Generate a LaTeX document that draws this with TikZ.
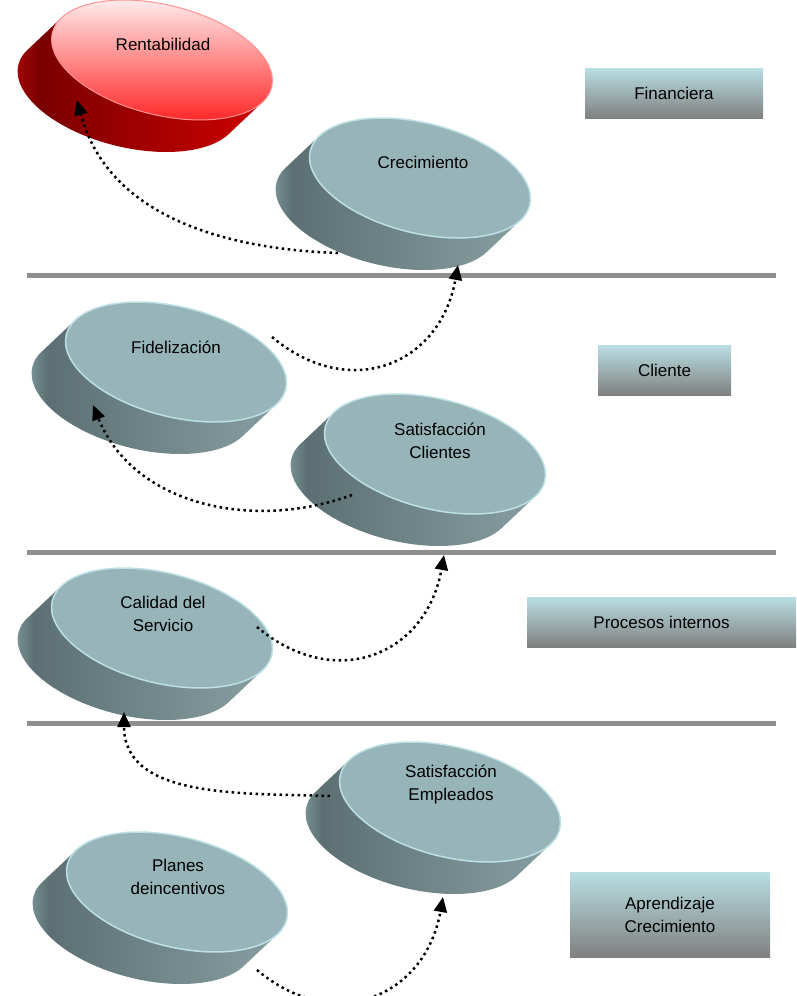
\documentclass[tikz,border=0pt]{standalone}
\usepackage{fontspec}
\setmainfont{Liberation Sans}
\usetikzlibrary{arrows.meta}
\definecolor{gsl}{RGB}{140,172,175}
\definecolor{gsd}{RGB}{92,112,115}
\definecolor{gsr}{RGB}{135,158,160}
\definecolor{rsl}{RGB}{190,10,10}
\definecolor{rsd}{RGB}{122,0,0}
\definecolor{rsr}{RGB}{205,0,0}
\definecolor{gtopc}{RGB}{151,181,184}
\definecolor{grim}{RGB}{188,224,228}
\definecolor{rtop1}{RGB}{255,248,248}
\definecolor{rtop2}{RGB}{255,45,45}
\definecolor{boxc}{RGB}{185,223,227}
\definecolor{boxg}{RGB}{128,128,128}
\definecolor{sepc}{RGB}{142,142,142}
\pgfdeclarehorizontalshading{greyside}{100bp}{color(0bp)=(gsl); color(25bp)=(gsl); color(31bp)=(gsd); color(75bp)=(gsr); color(100bp)=(gsr)}
\pgfdeclarehorizontalshading{redside}{100bp}{color(0bp)=(rsl); color(25bp)=(rsl); color(32bp)=(rsd); color(75bp)=(rsr); color(100bp)=(rsr)}
\begin{document}
\begin{tikzpicture}[x=1pt,y=1pt,
    gside/.style={shading=greyside},
    rside/.style={shading=redside},
    gtop/.style={fill=gtopc,draw=grim,line width=1.5},
    rtop/.style={top color=rtop1,bottom color=rtop2,draw=rtop1!50!rtop2,line width=1},
    lbl/.style={font=\fontsize{17}{23}\selectfont,align=center,inner sep=0},
    caja/.style={top color=boxc,middle color=boxc,bottom color=boxg,minimum height=50,inner sep=0,
      font=\fontsize{17}{23}\selectfont,align=center},
    sep/.style={line width=5,draw=sepc},
    flecha/.style={line width=2.5,dash pattern=on 2.5 off 3.5,-{Triangle[length=15,width=13]}}]
    \useasboundingbox (0,0) rectangle (796,-996);
    % separadores
    \draw[sep] (27,-275) -- (776,-275);
    \draw[sep] (27,-552) -- (776,-552);
    \draw[sep] (27,-723) -- (776,-723);
    % discos
    \foreach \cx/\cy/\sd/\tp in {162/60/rside/rtop, 420/178/gside/gtop, 176/362/gside/gtop,
        435/454/gside/gtop, 162/628/gside/gtop, 450/802/gside/gtop, 177/892/gside/gtop}{
      \begin{scope}[shift={(\cx,-\cy)},rotate=-14]
        \shade[\sd] (162.7:113 and 55) -- ++(-25.2,-39.3)
          arc[start angle=162.7,end angle=342.7,x radius=113,y radius=55]
          -- ++(25.2,39.3)
          arc[start angle=342.7,end angle=162.7,x radius=113,y radius=55] -- cycle;
        \path[\tp] (0,0) ellipse[x radius=113,y radius=55];
      \end{scope}
    }
    \node[lbl] (rent) at (163,-44) {Rentabilidad};
    \node[lbl] (crec) at (423,-162) {Crecimiento};
    \node[lbl] (fide) at (176,-347) {Fidelización};
    \node[lbl] (satc) at (440,-441) {Satisfacción\\Clientes};
    \node[lbl] (cali) at (163,-614) {Calidad del\\Servicio};
    \node[lbl] (sate) at (451,-784) {Satisfacción\\Empleados};
    \node[lbl] (plan) at (178,-877) {Planes\\deincentivos};
    % perspectivas
    \node[caja,minimum width=178] (fin) at (674,-93) {Financiera};
    \node[caja,minimum width=133] (cli) at (664.5,-370) {Cliente};
    \node[caja,minimum width=269] (proc) at (661.5,-622) {Procesos internos};
    \node[caja,minimum width=200,minimum height=85] (apre) at (670,-914.5) {Aprendizaje\\Crecimiento};
    % extremos de las flechas
    \coordinate (rent-in) at (77,-100);
    \coordinate (crec-out) at (338,-253);
    \coordinate (crec-in) at (458,-265);
    \coordinate (fide-out) at (272,-337);
    \coordinate (fide-in) at (93,-405);
    \coordinate (satc-out) at (352,-495);
    \coordinate (satc-in) at (444,-555);
    \coordinate (cali-out) at (257,-627);
    \coordinate (cali-in) at (124,-712);
    \coordinate (sate-out) at (330,-796);
    \coordinate (sate-in) at (443,-897);
    \coordinate (plan-out) at (257,-970);
    \draw[flecha] (crec-out) to[out=178,in=-75] (rent-in);
    \draw[flecha] (fide-out) to[out=-40,in=-100,looseness=1.3] (crec-in);
    \draw[flecha] (satc-out) to[out=200,in=-68] (fide-in);
    \draw[flecha] (cali-out) to[out=-40,in=-100,looseness=1.3] (satc-in);
    \draw[flecha] (sate-out) to[out=178,in=-90] (cali-in);
    \draw[flecha] (plan-out) to[out=-40,in=-100,looseness=1.3] (sate-in);
\end{tikzpicture}
\end{document}
